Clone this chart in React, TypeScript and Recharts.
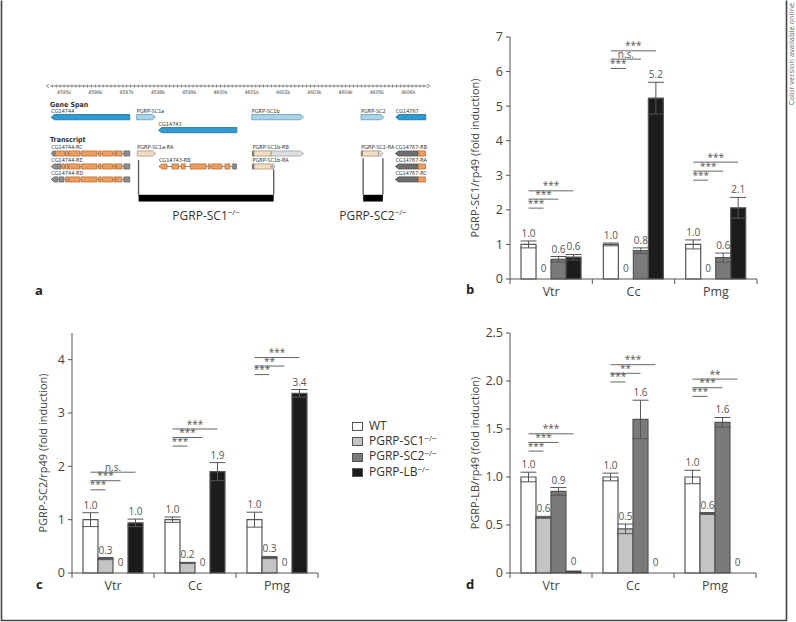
import React from "react";
import {
  ComposedChart,
  Bar,
  XAxis,
  YAxis,
  ErrorBar,
  LabelList,
  ReferenceLine,
  ReferenceArea,
  Legend,
} from "recharts";

const FONT = "'Open Sans', 'Noto Sans', sans-serif";
const MAP_FONT = "'Liberation Sans Narrow', 'DejaVu Sans Condensed', sans-serif";
const AXIS = "#555";

// ---------- bar panels: shared categories ----------
const tissues = ["Vtr", "Cc", "Pmg"];
const genotypes = ["WT", "PGRP-SC1", "PGRP-SC2", "PGRP-LB"];
const isMutant = [false, true, true, true];
const barFills = ["#ffffff", "#c4c4c4", "#7a7a7a", "#1c1c1c"];

// rows = genotype, columns = tissue
// panel b: PGRP-SC1/rp49
const sc1Means = [[1.0, 1.0, 1.0], [0, 0, 0], [0.57, 0.82, 0.62], [0.63, 5.23, 2.06]];
const sc1Errors = [[0.1, 0.04, 0.13], [0, 0, 0], [0.08, 0.08, 0.13], [0.08, 0.46, 0.3]];
const sc1Labels = [["1.0", "1.0", "1.0"], ["0", "0", "0"], ["0.6", "0.8", "0.6"], ["0.6", "5.2", "2.1"]];
const sc1Ticks = [0, 1, 2, 3, 4, 5, 6, 7];
// [tissue, compared genotype, height, mark]
const sc1Sig: [number, number, number, string][] = [
  [0, 1, 2.05, "***"], [0, 2, 2.31, "***"], [0, 3, 2.55, "***"],
  [1, 1, 6.09, "***"], [1, 2, 6.36, "n.s."], [1, 3, 6.6, "***"],
  [2, 1, 2.86, "***"], [2, 2, 3.12, "***"], [2, 3, 3.38, "***"],
];

// panel c: PGRP-SC2/rp49
const sc2Means = [[1.0, 1.0, 1.0], [0.27, 0.19, 0.29], [0, 0, 0], [0.94, 1.9, 3.37]];
const sc2Errors = [[0.13, 0.05, 0.14], [0.02, 0.01, 0.02], [0, 0, 0], [0.07, 0.17, 0.07]];
const sc2Labels = [["1.0", "1.0", "1.0"], ["0.3", "0.2", "0.3"], ["0", "0", "0"], ["1.0", "1.9", "3.4"]];
const sc2Ticks = [0, 1, 2, 3, 4];
const sc2Sig: [number, number, number, string][] = [
  [0, 1, 1.56, "***"], [0, 2, 1.73, "***"], [0, 3, 1.89, "n.s."],
  [1, 1, 2.38, "***"], [1, 2, 2.54, "***"], [1, 3, 2.7, "***"],
  [2, 1, 3.72, "***"], [2, 2, 3.88, "**"], [2, 3, 4.04, "***"],
];

// panel d: PGRP-LB/rp49
const lbMeans = [[1.0, 1.0, 1.0], [0.58, 0.46, 0.62], [0.85, 1.6, 1.57], [0.02, 0, 0]];
const lbErrors = [[0.05, 0.04, 0.07], [0.01, 0.05, 0.01], [0.04, 0.2, 0.05], [0, 0, 0]];
const lbLabels = [["1.0", "1.0", "1.0"], ["0.6", "0.5", "0.6"], ["0.9", "1.6", "1.6"], ["0", "0", "0"]];
const lbTicks = [0, 0.5, 1, 1.5, 2, 2.5];
const lbSig: [number, number, number, string][] = [
  [0, 1, 1.27, "***"], [0, 2, 1.36, "***"], [0, 3, 1.45, "***"],
  [1, 1, 1.99, "***"], [1, 2, 2.08, "**"], [1, 3, 2.17, "***"],
  [2, 1, 1.84, "***"], [2, 2, 1.93, "***"], [2, 3, 2.02, "**"],
];

// ---------- panel a: gene map (positions in kb) ----------
const kbDomain = [4594.55, 4606.6];
const rulerTicks = Array.from({ length: 96 }, (_, i) => 4594.625 + i * 0.125);

const geneNames = ["CG14744", "PGRP-SC1a", "CG14743", "PGRP-SC1b", "PGRP-SC2", "CG14767"];
const geneStart = [4594.59, 4597.32, 4598.02, 4601.0, 4604.49, 4605.6];
const geneEnd = [4597.1, 4597.92, 4600.52, 4602.65, 4605.22, 4606.56];
const geneRow = [1, 1, 2, 1, 1, 1];
const geneStrand = [-1, 1, -1, 1, 1, -1];
const geneTone = ["blue", "pale", "blue", "pale", "pale", "blue"];

const cg14744Tail: [number, number, string][] = [
  [4595.04, 4595.13, "cds"], [4595.15, 4595.5, "cds"], [4595.54, 4596.05, "cds"],
  [4596.1, 4596.18, "cds"], [4596.22, 4596.55, "cds"], [4596.59, 4596.66, "cds"],
  [4596.68, 4596.85, "cds"], [4596.91, 4597.1, "utr"],
];
const txNames = [
  "CG14744-RC", "CG14744-RE", "CG14744-RD", "PGRP-SC1a-RA", "CG14743-RB",
  "PGRP-SC1b-RB", "PGRP-SC1b-RA", "PGRP-SC2-RA", "CG14767-RB", "CG14767-RA", "CG14767-RC",
];
const txRow = [3.8, 4.8, 5.8, 3.8, 4.8, 3.8, 4.8, 3.8, 3.8, 4.8, 5.8];
const txStrand = [-1, -1, -1, 1, -1, 1, 1, 1, -1, -1, -1];
const txExons: [number, number, string][][] = [
  [[4594.59, 4594.71, "utr"], [4594.72, 4595.01, "cds"], ...cg14744Tail],
  [[4594.59, 4594.9, "utr"], [4594.93, 4595.01, "cds"], ...cg14744Tail],
  [[4594.59, 4594.8, "utr"], [4594.84, 4594.99, "utr"], ...cg14744Tail],
  [[4597.34, 4597.92, "nc"]],
  [
    [4598.03, 4598.29, "cds"], [4598.45, 4598.66, "cds"], [4598.74, 4598.87, "cds"],
    [4599.03, 4599.54, "cds"], [4599.61, 4599.67, "cds"], [4599.72, 4600.04, "cds"],
    [4600.14, 4600.3, "cds"], [4600.39, 4600.51, "utr"],
  ],
  [[4601.02, 4601.07, "utr"], [4601.07, 4601.62, "nc"], [4601.62, 4602.65, "lt"]],
  [[4601.02, 4601.07, "utr"], [4601.07, 4601.62, "nc"], [4601.66, 4601.73, "lt"]],
  [[4604.5, 4604.54, "utr"], [4604.54, 4605.05, "nc"], [4605.05, 4605.19, "lt"]],
  [[4605.59, 4606.32, "dk"], [4606.32, 4606.55, "cds"]],
  [[4605.59, 4606.32, "dk"], [4606.32, 4606.55, "cds"]],
  [[4605.59, 4606.32, "dk"], [4606.32, 4606.55, "cds"]],
];

const delNames = ["PGRP-SC1", "PGRP-SC2"];
const delStart = [4597.38, 4604.56];
const delEnd = [4601.7, 4605.19];
const delLineTop = [[4.29, 5.04], [4.16, 4.16]];
const delRow = 7.24;

const exonFill: Record<string, string> = { utr: "#8c8c8c", cds: "#ef9d5c", nc: "#f3dcbf", lt: "#dedede", dk: "#6e6e6e" };
const exonStroke: Record<string, string> = { utr: "#555", cds: "#a0602a", nc: "#8c7a62", lt: "#888", dk: "#444" };

function arrowPath(x: number, y: number, w: number, h: number, strand: number) {
  const t = Math.min(3, w / 2);
  if (strand > 0) return `M${x},${y}H${x + w - t}L${x + w},${y + h / 2}L${x + w - t},${y + h}H${x}Z`;
  return `M${x + t},${y}H${x + w}V${y + h}H${x + t}L${x},${y + h / 2}Z`;
}

function RulerTick(p: any) {
  const { x, y, payload, index, visibleTicksCount } = p;
  const v = payload.value;
  const major = Math.abs(v - Math.round(v)) < 1e-6;
  return (
    <g>
      <line x1={x} x2={x} y1={y - 1.5} y2={y + 1.5} stroke="#666" strokeWidth={0.7} />
      {index === 0 && <path d={`M${x - 3},${y - 2}L${x - 6},${y}L${x - 3},${y + 2}`} fill="none" stroke="#666" strokeWidth={0.7} />}
      {index === visibleTicksCount - 1 && <path d={`M${x + 3},${y - 2}L${x + 6},${y}L${x + 3},${y + 2}`} fill="none" stroke="#666" strokeWidth={0.7} />}
      {major && (
        <text x={x} y={y + 8} fontSize={5} textAnchor="middle" fill="#444" fontFamily={MAP_FONT}>
          {`${Math.round(v)}k`}
        </text>
      )}
    </g>
  );
}

function GeneMap() {
  const mapData = geneNames.map((n, i) => ({ start: geneStart[i], row: geneRow[i] }));
  return (
    <div style={{ position: "absolute", left: 30, top: 60 }}>
      <ComposedChart width={410} height={180} data={mapData} margin={{ top: 16, right: 13, bottom: 19, left: 20 }}>
        <XAxis
          type="number"
          dataKey="start"
          orientation="top"
          domain={kbDomain}
          ticks={rulerTicks}
          interval={0}
          height={10}
          tickSize={0}
          tickMargin={0}
          tickLine={false}
          axisLine={{ stroke: "#666", strokeWidth: 0.8 }}
          tick={(p: any) => <RulerTick {...p} />}
        />
        <YAxis type="number" dataKey="row" domain={[-1.4, 9]} reversed hide />
        {geneNames.map((name, i) => (
          <ReferenceArea
            key={name}
            x1={geneStart[i]}
            x2={geneEnd[i]}
            y1={geneRow[i] - 0.2}
            y2={geneRow[i] + 0.2}
            ifOverflow="visible"
            shape={(p: any) => (
              <g>
                <path
                  d={arrowPath(p.x, p.y, p.width, p.height, geneStrand[i])}
                  fill={geneTone[i] === "blue" ? "#2f9bd3" : "#a9d4e6"}
                  stroke={geneTone[i] === "blue" ? "#1d6c9a" : "#5f9cb8"}
                  strokeWidth={0.8}
                />
                <text x={p.x} y={p.y - 1.5} fontSize={5.5} fill="#333" fontFamily={MAP_FONT}>{name}</text>
              </g>
            )}
          />
        ))}
        {txNames.map((name, t) => {
          const ex = txExons[t];
          const s = ex[0][0];
          const e = ex[ex.length - 1][1];
          return (
            <ReferenceArea
              key={name}
              x1={s}
              x2={e}
              y1={txRow[t] - 0.2}
              y2={txRow[t] + 0.2}
              ifOverflow="visible"
              shape={(p: any) => (
                <g>
                  <line x1={p.x} x2={p.x + p.width} y1={p.y + p.height / 2} y2={p.y + p.height / 2} stroke="#666" strokeWidth={0.8} />
                  <text x={p.x} y={p.y - 1.5} fontSize={5.5} fill="#333" fontFamily={MAP_FONT}>{name}</text>
                </g>
              )}
            />
          );
        })}
        {txNames.flatMap((name, t) =>
          txExons[t].map(([s, e, kind], j) => {
            const last = txStrand[t] > 0 ? j === txExons[t].length - 1 : j === 0;
            return (
              <ReferenceArea
                key={`${name}-${j}`}
                x1={s}
                x2={e}
                y1={txRow[t] - 0.2}
                y2={txRow[t] + 0.2}
                ifOverflow="visible"
                shape={(p: any) => (
                  <path
                    d={last ? arrowPath(p.x, p.y, p.width, p.height, txStrand[t]) : `M${p.x},${p.y}h${p.width}v${p.height}h${-p.width}Z`}
                    fill={exonFill[kind]}
                    stroke={exonStroke[kind]}
                    strokeWidth={0.6}
                  />
                )}
              />
            );
          })
        )}
        {delNames.flatMap((name, i) => [
          <ReferenceLine key={`${name}-l`} segment={[{ x: delStart[i], y: delLineTop[i][0] }, { x: delStart[i], y: delRow - 0.26 }]} stroke="#555" strokeWidth={1.3} ifOverflow="visible" />,
          <ReferenceLine key={`${name}-r`} segment={[{ x: delEnd[i], y: delLineTop[i][1] }, { x: delEnd[i], y: delRow - 0.26 }]} stroke="#555" strokeWidth={1.3} ifOverflow="visible" />,
          <ReferenceArea
            key={`${name}-bar`}
            x1={delStart[i]}
            x2={delEnd[i]}
            y1={delRow - 0.26}
            y2={delRow + 0.26}
            ifOverflow="visible"
            shape={(p: any) => (
              <g>
                <rect x={p.x} y={p.y} width={p.width} height={p.height} fill="#000" />
                <text x={p.x + p.width / 2} y={p.y + p.height + 18} textAnchor="middle" fontSize={12} fill="#333" fontFamily={FONT}>
                  {name}
                  <tspan dy={-5} fontSize={8}>−/−</tspan>
                </text>
              </g>
            )}
          />,
        ])}
      </ComposedChart>
    </div>
  );
}

// ---------- bar panels ----------
function makeRows(means: number[][], errors: number[][], labels: string[][]) {
  return tissues.map((name, i) => {
    const row: Record<string, any> = { name };
    genotypes.forEach((_, k) => {
      row[`v${k}`] = means[k][i];
      row[`e${k}`] = errors[k][i];
      row[`l${k}`] = labels[k][i];
    });
    return row;
  });
}

const txt = (x: number, y: number, s: string, key?: string | number) => (
  <text key={key} x={x} y={y} textAnchor="middle" fontSize={10} fill="#555" fontFamily={FONT}>
    {s}
  </text>
);

// value label for a non-zero bar, placed above its error bar
function valueLabel(k: number, means: number[][], errors: number[][]) {
  return (p: any) => {
    const vb = p.viewBox ?? p;
    const idx = p.index ?? 0;
    const v = means[k][idx];
    if (!(v > 0)) return null;
    const top = Math.min(vb.y, vb.y + vb.height);
    const h = Math.abs(vb.height);
    const e = errors[k][idx] ?? 0;
    const y = v > 0.05 ? top - (e * h) / v - 4 : top - 6;
    return txt(vb.x + vb.width / 2, y, String(p.value));
  };
}

// WT bar carries the group annotations: its label, the zero labels and the significance bars,
// all positioned from the WT bar geometry (same bar width, no gap between bars)
function groupLabel(means: number[][], errors: number[][], labels: string[][], sig: [number, number, number, string][]) {
  return (p: any) => {
    const vb = p.viewBox ?? p;
    const idx = p.index ?? 0;
    const w = vb.width;
    const top = Math.min(vb.y, vb.y + vb.height);
    const h = Math.abs(vb.height);
    const base = top + h;
    const ppu = h / means[0][idx];
    const cx = vb.x + w / 2;
    const items: React.ReactNode[] = [];
    items.push(txt(cx, top - errors[0][idx] * ppu - 4, String(p.value), "wt"));
    genotypes.forEach((_, k) => {
      if (k > 0 && means[k][idx] === 0) items.push(txt(cx + k * w, base - 7, labels[k][idx], `z${k}`));
    });
    sig
      .filter((s) => s[0] === idx)
      .forEach(([, k, hv, mark], n) => {
        const y = base - hv * ppu;
        items.push(<line key={`l${n}`} x1={cx} x2={cx + k * w} y1={y} y2={y} stroke="#666" strokeWidth={1} />);
        items.push(txt(cx + (k * w) / 2, y - 1.5, mark, `t${n}`));
      });
    return <g>{items}</g>;
  };
}

function CatTick(props: any) {
  const { x, y, payload, index, width } = props;
  const half = payload?.offset ?? width / tissues.length / 2;
  return (
    <g>
      <line x1={x + half} x2={x + half} y1={y} y2={y + 5} stroke={AXIS} />
      {index === 0 && <line x1={x - half} x2={x - half} y1={y} y2={y + 5} stroke={AXIS} />}
      <text x={x} y={y + 17} textAnchor="middle" fontSize={12.5} fill="#444" fontFamily={FONT}>
        {payload.value}
      </text>
    </g>
  );
}

function GenotypeLegend() {
  return (
    <div style={{ fontFamily: FONT, fontSize: 12, color: "#333", lineHeight: "14.7px" }}>
      {genotypes.map((g, k) => (
        <div key={g} style={{ display: "flex", alignItems: "center", whiteSpace: "nowrap" }}>
          <span style={{ display: "inline-block", width: 9, height: 7, background: barFills[k], border: "1px solid #555", marginRight: 6 }} />
          <span>
            {g}
            {isMutant[k] && <span style={{ fontSize: 8, position: "relative", top: -4 }}>−/−</span>}
          </span>
        </div>
      ))}
    </div>
  );
}

const yTitle = (text: string, cx: number) => (p: any) => {
  const vb = p.viewBox;
  const cy = vb.y + vb.height / 2;
  return (
    <text x={cx} y={cy} transform={`rotate(-90 ${cx} ${cy})`} textAnchor="middle" dominantBaseline="central" fontSize={11} fill="#444" fontFamily={FONT}>
      {text}
    </text>
  );
};

interface BarPanelProps {
  left: number;
  top: number;
  width: number;
  height: number;
  margin: { top: number; right: number; bottom: number; left: number };
  means: number[][];
  errors: number[][];
  labels: string[][];
  sig: [number, number, number, string][];
  domain: number[];
  ticks: number[];
  title: string;
  titleX: number;
  decimals?: boolean;
  showLegend?: boolean;
}

function BarPanel(pr: BarPanelProps) {
  const rows = makeRows(pr.means, pr.errors, pr.labels);
  return (
    <div style={{ position: "absolute", left: pr.left, top: pr.top }}>
      <ComposedChart width={pr.width} height={pr.height} data={rows} margin={pr.margin} barCategoryGap="13.4%" barGap={0}>
        <XAxis
          dataKey="name"
          type="category"
          height={30}
          interval={0}
          tickSize={0}
          tickMargin={0}
          tickLine={false}
          axisLine={{ stroke: AXIS }}
          tick={(p: any) => <CatTick {...p} />}
        />
        <YAxis
          type="number"
          domain={pr.domain}
          ticks={pr.ticks}
          interval={0}
          width={30}
          tickSize={4}
          tickMargin={3}
          stroke={AXIS}
          tick={{ fill: "#444", fontSize: 12.5, fontFamily: FONT }}
          tickFormatter={(v: number) => (v === 0 ? "0" : pr.decimals ? v.toFixed(1) : String(v))}
          label={yTitle(pr.title, pr.titleX)}
        />
        {genotypes.map((g, k) => (
          <Bar
            key={g}
            dataKey={`v${k}`}
            name={g}
            fill={barFills[k]}
            stroke="#555"
            strokeWidth={1.2}
            isAnimationActive={false}
          >
            <ErrorBar dataKey={`e${k}`} width={8} stroke="#555" strokeWidth={1} />
            <LabelList
              dataKey={`l${k}`}
              content={k === 0 ? groupLabel(pr.means, pr.errors, pr.labels, pr.sig) : valueLabel(k, pr.means, pr.errors)}
            />
          </Bar>
        ))}
        {pr.showLegend && (
          <Legend
            layout="vertical"
            align="center"
            verticalAlign="middle"
            content={() => <GenotypeLegend />}
            wrapperStyle={{ left: 352, top: 99, width: 110 }}
          />
        )}
      </ComposedChart>
    </div>
  );
}

function Overlay() {
  const letter = { fontSize: 13, fontWeight: 700, fill: "#222", fontFamily: FONT };
  return (
    <svg width={796} height={622} style={{ position: "absolute", left: 0, top: 0, pointerEvents: "none" }}>
      <path d="M1.5,0.5V620.5H786.5V0.5" fill="none" stroke="#444" strokeWidth={1.6} />
      <text x={791} y={54} transform="rotate(-90 791 54)" textAnchor="middle" dominantBaseline="central" fontSize={7.5} fill="#666" fontFamily={FONT}>
        Color version available online
      </text>
      <text x={50} y={107} fontSize={7} fontWeight={700} fill="#333" fontFamily={MAP_FONT}>Gene Span</text>
      <text x={50} y={142} fontSize={7} fontWeight={700} fill="#333" fontFamily={MAP_FONT}>Transcript</text>
      <text x={35} y={295} {...letter}>a</text>
      <text x={466} y={294} {...letter}>b</text>
      <text x={36} y={589} {...letter}>c</text>
      <text x={466} y={589} {...letter}>d</text>
    </svg>
  );
}

export default function App() {
  return (
    <div style={{ position: "absolute", left: 0, top: 0, width: 796, height: 622, background: "#fff", overflow: "hidden", fontFamily: FONT }}>
      <GeneMap />
      <BarPanel
        left={440} top={10} width={345} height={330}
        margin={{ top: 27, right: 28, bottom: 31, left: 40 }}
        means={sc1Means} errors={sc1Errors} labels={sc1Labels} sig={sc1Sig}
        domain={[0, 7]} ticks={sc1Ticks}
        title="PGRP-SC1/rp49 (fold induction)" titleX={34}
      />
      <BarPanel
        left={0} top={320} width={440} height={300}
        margin={{ top: 13, right: 122, bottom: 17, left: 42 }}
        means={sc2Means} errors={sc2Errors} labels={sc2Labels} sig={sc2Sig}
        domain={[0, 4.5]} ticks={sc2Ticks}
        title="PGRP-SC2/rp49 (fold induction)" titleX={42}
        showLegend
      />
      <BarPanel
        left={440} top={320} width={345} height={300}
        margin={{ top: 13, right: 29, bottom: 17, left: 40 }}
        means={lbMeans} errors={lbErrors} labels={lbLabels} sig={lbSig}
        domain={[0, 2.5]} ticks={lbTicks} decimals
        title="PGRP-LB/rp49 (fold induction)" titleX={34}
      />
      <Overlay />
    </div>
  );
}
